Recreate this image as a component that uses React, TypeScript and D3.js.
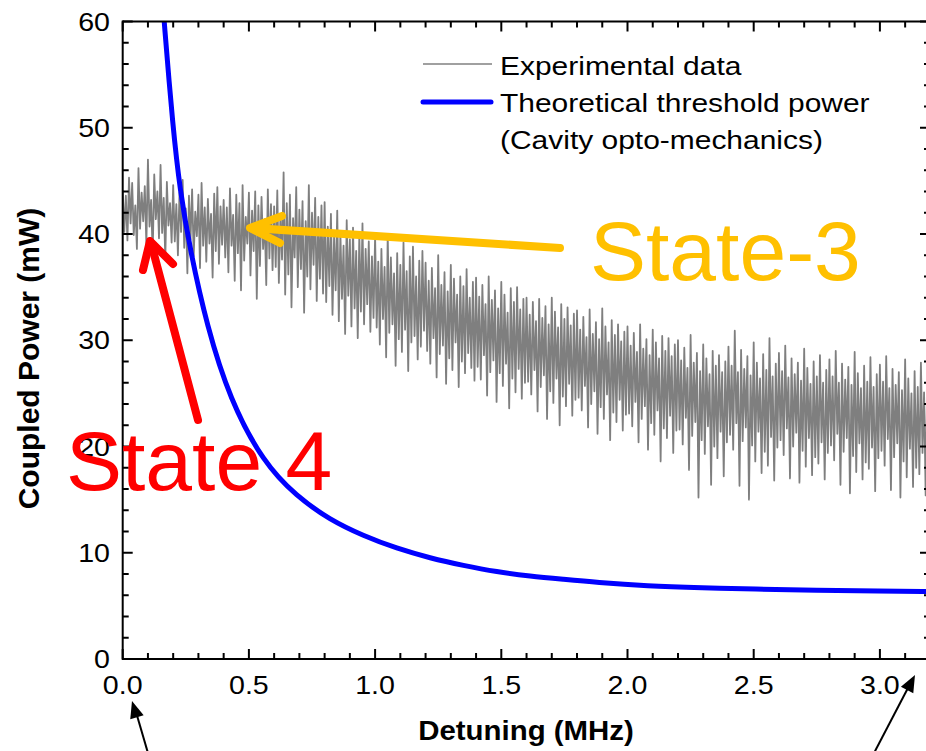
import React from 'react';
import * as d3 from 'd3';

// ---------- data ----------
const xTicks = [0, 0.5, 1.0, 1.5, 2.0, 2.5, 3.0];
const xTickLabels = ['0.0', '0.5', '1.0', '1.5', '2.0', '2.5', '3.0'];
const yTicks = [0, 10, 20, 30, 40, 50, 60];
const yTickLabels = ['0', '10', '20', '30', '40', '50', '60'];

// Experimental data: uniformly sampled detuning (MHz), coupled power (mW)
const expStart = 0;
const expStep = 0.00625;
const expPower = [
  44.1, 40.2, 43.6, 39.4, 45.3, 41.0, 44.8, 39.9, 42.7, 38.6, 46.2, 40.5, 43.9, 41.2, 44.5, 39.0, 47.0, 40.7, 43.2, 38.1, 45.6, 41.4, 44.0, 39.6, 46.5, 40.1, 43.4, 37.6, 44.9, 40.8, 42.9, 39.2,
  44.6, 39.3, 42.8, 38.0, 43.9, 40.2, 45.1, 38.7, 42.4, 36.3, 43.6, 39.5, 44.2, 37.9, 42.1, 39.8, 43.7, 36.8, 44.8, 38.9, 42.5, 37.4, 43.3, 39.1, 41.9, 35.9, 43.8, 38.4, 44.4, 37.2, 42.6, 39.0,
  43.2, 37.8, 42.5, 36.4, 44.3, 38.9, 41.8, 35.6, 43.7, 38.2, 42.9, 34.7, 44.6, 37.5, 41.6, 39.1, 43.9, 36.1, 42.2, 38.4, 44.0, 33.9, 42.7, 37.0, 43.5, 38.6, 41.4, 35.2, 44.2, 37.7, 42.8, 36.6,
  42.6, 36.9, 44.1, 35.4, 41.8, 37.6, 45.8, 34.3, 42.9, 36.2, 43.7, 33.1, 41.5, 37.8, 44.4, 35.0, 42.3, 36.7, 43.1, 32.6, 41.2, 36.0, 44.6, 34.8, 42.0, 37.1, 43.4, 33.7, 41.6, 35.8, 42.7, 34.4,
  43.0, 33.6, 40.7, 35.1, 41.9, 32.4, 39.8, 34.7, 42.2, 31.8, 40.1, 33.9, 38.9, 30.6, 41.3, 34.2, 39.5, 31.3, 40.6, 33.0, 38.4, 30.2, 39.9, 32.7, 41.0, 31.5, 38.6, 33.4, 39.3, 30.8, 37.9, 32.1,
  39.8, 31.2, 37.4, 29.6, 38.6, 32.0, 36.9, 28.4, 40.0, 30.7, 37.8, 31.5, 36.3, 27.6, 38.2, 30.1, 37.1, 28.9, 39.2, 31.0, 36.5, 27.1, 37.9, 29.8, 38.8, 30.4, 36.0, 28.2, 37.5, 29.4, 38.4, 30.9,
  37.3, 29.0, 35.6, 27.8, 36.8, 30.2, 34.9, 26.5, 38.0, 28.7, 35.2, 29.5, 36.4, 25.9, 34.6, 28.3, 37.1, 27.2, 35.8, 29.8, 34.3, 25.6, 36.0, 28.0, 35.1, 26.9, 36.7, 28.8, 34.0, 27.4, 35.5, 26.2,
  35.9, 27.5, 34.1, 26.3, 35.2, 28.6, 33.4, 24.8, 36.0, 27.0, 33.8, 28.1, 34.7, 24.2, 33.0, 26.9, 35.5, 25.7, 34.3, 27.8, 32.6, 23.6, 34.9, 26.4, 33.6, 25.1, 35.0, 27.3, 32.9, 24.5, 33.9, 26.0,
  34.0, 26.1, 32.4, 24.9, 33.6, 27.2, 31.8, 23.3, 33.9, 25.6, 32.1, 26.7, 33.2, 22.6, 31.5, 25.2, 34.0, 24.1, 32.7, 26.4, 31.2, 22.0, 33.4, 24.7, 32.0, 23.8, 33.1, 25.9, 31.4, 22.9, 32.5, 24.4,
  32.8, 24.6, 31.0, 23.4, 32.2, 25.7, 30.3, 21.8, 32.9, 24.0, 30.6, 25.2, 31.7, 21.2, 30.1, 23.7, 33.0, 22.6, 31.3, 24.9, 29.8, 20.6, 31.9, 23.2, 30.5, 22.3, 31.5, 24.4, 29.9, 21.5, 30.8, 23.0,
  31.3, 23.1, 29.5, 21.9, 30.7, 24.2, 28.9, 20.4, 31.5, 22.6, 29.2, 23.8, 30.1, 19.7, 28.6, 22.2, 31.0, 21.1, 29.8, 23.4, 28.3, 18.6, 30.4, 21.7, 29.0, 20.8, 30.2, 22.9, 28.5, 19.4, 29.6, 21.5,
  30.0, 21.6, 28.1, 20.2, 29.3, 22.7, 27.4, 17.8, 30.5, 21.0, 27.9, 22.3, 28.8, 15.2, 27.1, 20.6, 29.6, 19.3, 28.3, 21.9, 26.8, 16.4, 29.0, 20.0, 27.6, 18.9, 28.6, 21.4, 27.0, 17.2, 28.0, 20.4,
  29.4, 21.1, 27.6, 19.7, 30.9, 22.2, 27.0, 16.3, 29.1, 20.5, 27.3, 21.8, 28.5, 15.0, 26.7, 20.1, 29.8, 18.6, 27.9, 21.4, 26.4, 17.5, 28.7, 19.5, 27.2, 18.2, 30.2, 20.9, 26.6, 16.8, 27.8, 19.9,
  28.8, 20.6, 27.1, 19.2, 29.5, 21.7, 26.5, 17.0, 28.3, 20.0, 26.8, 21.3, 27.9, 16.6, 26.2, 19.6, 29.2, 18.1, 27.4, 20.8, 25.9, 17.3, 28.0, 19.0, 26.6, 18.4, 28.6, 20.4, 26.0, 16.9, 27.2, 19.4,
  28.2, 20.1, 26.6, 18.7, 29.0, 21.2, 26.0, 16.4, 27.8, 19.5, 26.3, 20.8, 27.5, 15.6, 25.8, 19.1, 28.9, 17.6, 26.9, 20.3, 25.5, 16.9, 27.6, 18.5, 26.1, 17.9, 28.4, 19.9, 25.6, 15.8, 26.8, 18.9,
  27.7, 19.6, 26.1, 18.2, 28.5, 20.7, 25.5, 15.9, 27.3, 19.0, 25.8, 20.3, 27.0, 15.2, 25.3, 18.6, 28.2, 17.1, 26.4, 19.8, 25.0, 16.2, 27.1, 18.0, 25.6, 17.4, 27.9, 19.4, 25.1, 15.4, 26.3, 18.4,
];

// Theoretical threshold power
const theoDetuning = [0.15, 0.164, 0.199, 0.227, 0.267, 0.334, 0.425, 0.557, 0.689, 0.821, 0.953, 1.086, 1.218, 1.35, 1.482, 1.614, 1.746, 1.878, 2.076, 2.3, 2.5, 2.75, 3.0, 3.2];
const theoPower = [64.5, 60, 50, 44.1, 38.5, 31.3, 24.4, 18.5, 15.3, 13.1, 11.6, 10.4, 9.5, 8.8, 8.2, 7.8, 7.5, 7.2, 6.87, 6.7, 6.58, 6.47, 6.4, 6.35];

const legendLabels = ['Experimental data', 'Theoretical threshold power', '(Cavity opto-mechanics)'];
const xTitle = 'Detuning (MHz)';
const yTitle = 'Coupled Power (mW)';

// ---------- layout ----------
const W = 926;
const H = 751;
const L = 122.7;
const R = 930;
const T = 21.5;
const B = 659;
const FONT = '"Liberation Sans", Arial, Helvetica, sans-serif';

const x = d3.scaleLinear().domain([0, (R - L) / 252.4]).range([L, R]);
const y = d3.scaleLinear().domain([0, 60]).range([B, T]);

const xMinor = d3.range(0, 3.2, 0.1).filter((v) => Math.abs(v * 2 - Math.round(v * 2)) > 1e-6);
const yMinor = d3.range(0, 60, 2).filter((v) => v % 10 !== 0);

type STextProps = {
  x: number; y: number; size: number; sx?: number; anchor?: string; weight?: string; fill?: string; children: React.ReactNode;
};
const SText = ({ x: tx, y: ty, size, sx = 1, anchor = 'start', weight = 'normal', fill = '#000', children }: STextProps) => (
  <text
    transform={`translate(${tx},${ty}) scale(${sx},1)`}
    fontSize={size}
    textAnchor={anchor as any}
    fontWeight={weight}
    fill={fill}
    fontFamily={FONT}
  >
    {children}
  </text>
);

function arrowHead(x1: number, y1: number, x2: number, y2: number, len: number, half: number) {
  const dx = x2 - x1, dy = y2 - y1;
  const d = Math.hypot(dx, dy);
  const ux = dx / d, uy = dy / d;
  const bx = x2 - ux * len, by = y2 - uy * len;
  return `M${x2},${y2} L${bx - uy * half},${by + ux * half} L${bx + uy * half},${by - ux * half} Z`;
}

export default function App() {
  const expLine = d3
    .line<number>()
    .x((_, i) => x(expStart + i * expStep))
    .y((d) => y(d));
  const theoLine = d3
    .line<number>()
    .x((_, i) => x(theoDetuning[i]))
    .y((d) => y(d))
    .curve(d3.curveBasis);

  return (
    <svg width={W} height={H} style={{ position: 'absolute', left: 0, top: 0, background: '#fff' }}>
      <defs>
        <clipPath id="plot">
          <rect x={L} y={T} width={R - L} height={B - T} />
        </clipPath>
      </defs>
      <rect width={W} height={H} fill="#fff" />

      {/* data */}
      <g clipPath="url(#plot)">
        <path d={expLine(expPower) || ''} fill="none" stroke="#7f7f7f" strokeWidth={1.8} strokeLinejoin="round" />
        <path d={theoLine(theoPower) || ''} fill="none" stroke="#0000FF" strokeWidth={5} />
      </g>

      {/* axes frame */}
      <g stroke="#000" strokeWidth={2} fill="none">
        <line x1={L} y1={B} x2={R} y2={B} />
        <line x1={L} y1={T} x2={R} y2={T} />
        <line x1={L} y1={T - 1} x2={L} y2={B + 1} />
        <line x1={R} y1={T} x2={R} y2={B} />
        {xTicks.map((t) => (
          <g key={'xt' + t}>
            <line x1={x(t)} y1={B} x2={x(t)} y2={B - 10} />
            <line x1={x(t)} y1={T} x2={x(t)} y2={T + 10} />
          </g>
        ))}
        {xMinor.map((t) => (
          <g key={'xm' + t}>
            <line x1={x(t)} y1={B} x2={x(t)} y2={B - 6} />
            <line x1={x(t)} y1={T} x2={x(t)} y2={T + 6} />
          </g>
        ))}
        {yTicks.map((t) => (
          <g key={'yt' + t}>
            <line x1={L} y1={y(t)} x2={L + 10} y2={y(t)} />
            <line x1={R} y1={y(t)} x2={R - 10} y2={y(t)} />
          </g>
        ))}
        {yMinor.map((t) => (
          <g key={'ym' + t}>
            <line x1={L} y1={y(t)} x2={L + 6} y2={y(t)} />
            <line x1={R} y1={y(t)} x2={R - 6} y2={y(t)} />
          </g>
        ))}
      </g>

      {/* tick labels */}
      {xTicks.map((t, i) => (
        <SText key={'xl' + t} x={x(t)} y={694} size={26} sx={1.1} anchor="middle">
          {xTickLabels[i]}
        </SText>
      ))}
      {yTicks.map((t, i) => (
        <SText key={'yl' + t} x={110} y={y(t) + 9} size={26} sx={1.1} anchor="end">
          {yTickLabels[i]}
        </SText>
      ))}

      {/* axis titles */}
      <SText x={526} y={740} size={27} sx={1.09} anchor="middle" weight="bold">
        {xTitle}
      </SText>
      <text
        transform="translate(39,358.5) rotate(-90)"
        fontSize={30}
        fontWeight="bold"
        textAnchor="middle"
        fontFamily={FONT}
        fill="#000"
      >
        {yTitle}
      </text>

      {/* legend */}
      <line x1={423} y1={64} x2={492} y2={64} stroke="#808080" strokeWidth={1.6} />
      <line x1={423} y1={102} x2={491} y2={102} stroke="#0000FF" strokeWidth={5} strokeLinecap="round" />
      <SText x={500} y={75} size={25.6} sx={1.17}>{legendLabels[0]}</SText>
      <SText x={500} y={112} size={25.6} sx={1.17}>{legendLabels[1]}</SText>
      <SText x={500} y={149} size={25.6} sx={1.17}>{legendLabels[2]}</SText>

      {/* annotations */}
      <g stroke="#FFC000" strokeWidth={8} strokeLinecap="round" strokeLinejoin="round" fill="none">
        <line x1={560} y1={248} x2={252} y2={228} />
        <polyline points="282,216 250,228 280,243" />
      </g>
      <g stroke="#FF0000" strokeWidth={8} strokeLinecap="round" strokeLinejoin="round" fill="none">
        <line x1={198} y1={420} x2={151} y2={243} />
        <polyline points="143,270 150,241 173,264" />
      </g>
      <text x={590} y={280} fontSize={84} fontFamily={FONT} fill="#FFC000">State-3</text>
      <text x={66} y={490} fontSize={84} fontFamily={FONT} fill="#FF0000">State 4</text>

      {/* black arrows below axis */}
      <g stroke="#000" strokeWidth={2}>
        <line x1={150} y1={760} x2={136} y2={712} />
        <line x1={873} y1={755} x2={909} y2={686} />
      </g>
      <path d={arrowHead(150, 760, 132, 701, 17, 7)} fill="#000" />
      <path d={arrowHead(873, 755, 915, 675, 17, 7)} fill="#000" />
    </svg>
  );
}
